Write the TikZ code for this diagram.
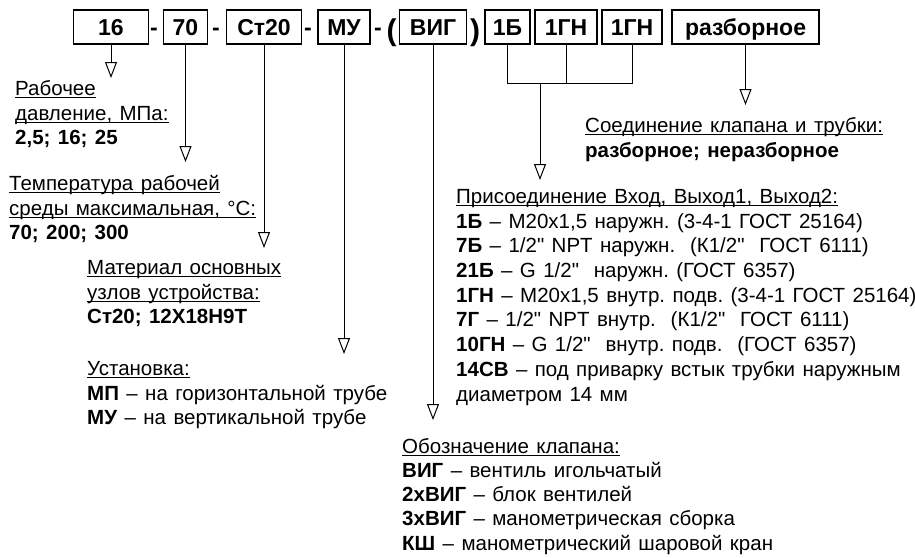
\documentclass[tikz,border=0pt]{standalone}
\usepackage{fontspec}
\setmainfont{Liberation Sans}[WordSpace=1.3]
\newfontfamily\rectas{Liberation Sans}
\usetikzlibrary{arrows.meta}
\newcommand{\alto}{\rule{0pt}{16pt}}
\newcommand{\pulg}{{\rectas"}}
\newcommand{\subr}[1]{\setbox0=\hbox{#1}\leavevmode\rlap{\rule[-3pt]{\wd0}{1.2pt}}\box0}
\frenchspacing

\begin{document}
\begin{tikzpicture}[x=1pt, y=-1pt, >={Triangle[open, length=16pt, width=12pt]}]
        % Definición de estilos
        \tikzstyle{nodoCampo} = [draw, rectangle, line width=1.1pt, minimum height=34pt, inner sep=0pt, text height=16.5pt, text depth=0pt, font=\fontsize{23}{27}\selectfont\bfseries]
        \tikzstyle{nodoSigno} = [inner sep=0pt, anchor=base, font=\fontsize{23}{27}\selectfont\bfseries]
        \tikzstyle{nodoParen} = [inner sep=0pt, anchor=center, font=\fontsize{30}{30}\selectfont\bfseries]
        \tikzstyle{nodoTexto} = [inner sep=0pt, anchor=north west, align=left, font=\fontsize{20.5}{24.7}\selectfont]
        \tikzstyle{flecha} = [->, line width=1pt]
        \tikzstyle{linea} = [line width=1pt]

        \useasboundingbox (0,0) rectangle (915,557);

        % Campos del código
        \node[nodoCampo, minimum width=75pt] (campoPresion) at (111,27) {16};
        \node[nodoCampo, minimum width=44pt] (campoTemp) at (185.5,27) {70};
        \node[nodoCampo, minimum width=75pt] (campoMaterial) at (264,27) {Ст20};
        \node[nodoCampo, minimum width=52pt] (campoMontaje) at (344,27) {МУ};
        \node[nodoCampo, minimum width=67pt] (campoValvula) at (433,27) {ВИГ};
        \node[nodoCampo, minimum width=45pt] (campoEntrada) at (507.5,27) {1Б};
        \node[nodoCampo, minimum width=62pt] (campoSalida1) at (566,27) {1ГН};
        \node[nodoCampo, minimum width=60pt] (campoSalida2) at (632,27) {1ГН};
        \node[nodoCampo, minimum width=147pt] (campoUnion) at (745.5,27) {разборное};

        % Separadores
        \node[nodoSigno] (guion1) at (154,35.25) {-};
        \node[nodoSigno] (guion2) at (216,35.25) {-};
        \node[nodoSigno] (guion3) at (308,35.25) {-};
        \node[nodoSigno] (guion4) at (378,35.25) {-};
        \node[nodoParen] (parenAbre) at (391.5,33) {(};
        \node[nodoParen] (parenCierra) at (475,33) {)};

        % Textos
        \node[nodoTexto] (textoPresion) at (15,79.2) {\alto\subr{Рабочее}\\\subr{давление, МПа:}\\\textbf{2,5; 16; 25}};
        \node[nodoTexto] (textoTemp) at (9,174.2) {\alto\subr{Температура рабочей}\\\subr{среды максимальная, °С:}\\\textbf{70; 200; 300}};
        \node[nodoTexto] (textoMaterial) at (87,258.2) {\alto\subr{Материал основных}\\\subr{узлов устройства:}\\\textbf{Ст20; 12Х18Н9Т}};
        \node[nodoTexto] (textoMontaje) at (87,359.2) {\alto\subr{Установка:}\\\textbf{МП} – на горизонтальной трубе\\\textbf{МУ} – на вертикальной трубе};
        \node[nodoTexto] (textoUnion) at (585,116.2) {\alto\subr{Соединение клапана и трубки:}\\\textbf{разборное; неразборное}};
        \node[nodoTexto] (textoConexion) at (456,187.2) {\alto\subr{Присоединение Вход, Выход1, Выход2:}\\
            \textbf{1Б} – M20x1,5 наружн. (3-4-1 ГОСТ 25164)\\
            \textbf{7Б} – 1/2\pulg{} NPT наружн.\ \ (К1/2\pulg\ \ ГОСТ 6111)\\
            \textbf{21Б} – G 1/2\pulg\ \ наружн. (ГОСТ 6357)\\
            \textbf{1ГН} – М20х1,5 внутр. подв. (3-4-1 ГОСТ 25164)\\
            \textbf{7Г} – 1/2\pulg{} NPT внутр.\ \ (К1/2\pulg\ \ ГОСТ 6111)\\
            \textbf{10ГН} – G 1/2\pulg\ \ внутр. подв.\ \ (ГОСТ 6357)\\
            \textbf{14СВ} – под приварку встык трубки наружным\\
            диаметром 14 мм};
        \node[nodoTexto, font=\fontsize{20.5}{24.2}\selectfont] (textoValvula) at (402,437) {\alto\subr{Обозначение клапана:}\\
            \textbf{ВИГ} – вентиль игольчатый\\
            \textbf{2хВИГ} – блок вентилей\\
            \textbf{3хВИГ} – манометрическая сборка\\
            \textbf{КШ} – манометрический шаровой кран};

        % Flechas
        \coordinate (puntaPresion) at (111,78);
        \coordinate (puntaTemp) at (185.5,162);
        \coordinate (puntaMaterial) at (264,248);
        \coordinate (puntaMontaje) at (344,354);
        \coordinate (puntaValvula) at (433,420);
        \coordinate (puntaUnion) at (745.5,105);
        \coordinate (nudoConexion) at (540,83);
        \coordinate (puntaConexion) at (540,180);
        \draw[flecha] (campoPresion.south) -- (puntaPresion);
        \draw[flecha] (campoTemp.south) -- (puntaTemp);
        \draw[flecha] (campoMaterial.south) -- (puntaMaterial);
        \draw[flecha] (campoMontaje.south) -- (puntaMontaje);
        \draw[flecha] (campoValvula.south) -- (puntaValvula);
        \draw[flecha] (campoUnion.south) -- (puntaUnion);
        \draw[linea] (campoEntrada.south) |- (campoSalida2.south |- nudoConexion) -- (campoSalida2.south);
        \draw[linea] (campoSalida1.south) -- (campoSalida1.south |- nudoConexion);
        \draw[flecha] (nudoConexion) -- (puntaConexion);
    \end{tikzpicture}
\end{document}
